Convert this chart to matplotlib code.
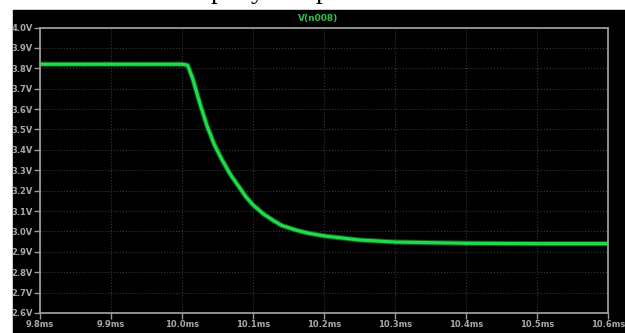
"""
LTspice-style transient plot of V(n008): step down from ~3.82V to ~2.94V.
"""

import numpy as np
import matplotlib.pyplot as plt
from matplotlib.patches import Rectangle

# values
time_ms = [9.80, 9.90, 10.00, 10.008, 10.015, 10.025, 10.035, 10.045, 10.055,
           10.068, 10.080, 10.090, 10.100, 10.115, 10.128, 10.140, 10.162,
           10.180, 10.200, 10.250, 10.300, 10.400, 10.500, 10.600]
v_n008 = [3.82, 3.82, 3.82, 3.815, 3.75, 3.63, 3.52, 3.43, 3.36,
          3.28, 3.22, 3.17, 3.13, 3.085, 3.055, 3.03, 3.005,
          2.99, 2.978, 2.958, 2.948, 2.942, 2.940, 2.940]

y_ticks = [2.6, 2.7, 2.8, 2.9, 3.0, 3.1, 3.2, 3.3, 3.4, 3.5, 3.6, 3.7, 3.8, 3.9, 4.0]
x_ticks = [9.8, 9.9, 10.0, 10.1, 10.2, 10.3, 10.4, 10.5, 10.6]

W, H = 625, 333
fig = plt.figure(figsize=(W / 100, H / 100), dpi=100, facecolor='white')

# black screen area of the screenshot
fig.patches.append(Rectangle((13 / W, 0), 1 - 13 / W, 1 - 10 / H,
                             transform=fig.transFigure, color='black', zorder=-5))

# cut-off text of the page above the screenshot
for xp, ch in [(211, 'p'), (251, 'y'), (316, 'p')]:
    fig.text(xp / W, 1 + 2 / H, ch, fontsize=20, family='Liberation Serif',
             color='black', va='baseline', ha='left')

ax = fig.add_axes([40 / W, 1 - 313 / H, (608 - 40) / W, (313 - 27.5) / H])
ax.set_zorder(2)
ax.set_facecolor('black')

green = '#1fdc48'
ax.plot(time_ms, v_n008, color=green, lw=3.8, alpha=0.4,
        solid_capstyle='butt', solid_joinstyle='round')
ax.plot(time_ms, v_n008, color=green, lw=2.3,
        solid_capstyle='butt', solid_joinstyle='round')

ax.set_xlim(9.8, 10.6)
ax.set_ylim(2.6, 4.0)
ax.set_xticks(x_ticks)
ax.set_yticks(y_ticks)
ax.set_xticklabels([f"{t:.1f}ms" for t in x_ticks])
ax.set_yticklabels([f"{v:.1f}V" for v in y_ticks])

gray = '#9c9c9c'
for s in ax.spines.values():
    s.set_color(gray)
    s.set_linewidth(1.3)
ax.tick_params(colors=gray, labelcolor='#a8a8a8', direction='out', length=4,
               width=1.0, labelsize=6, pad=1)
for lbl in ax.get_xticklabels() + ax.get_yticklabels():
    lbl.set_fontweight('bold')
ax.grid(True, color='#383838', linestyle=':', linewidth=0.8)

fig.text(318 / W, 1 - 18 / H, "V(n008)", color='#2fbf4f', fontsize=6.5,
         fontweight='bold', ha='center', va='center')

plt.savefig('out.png', dpi=100, facecolor='white')
plt.close()
